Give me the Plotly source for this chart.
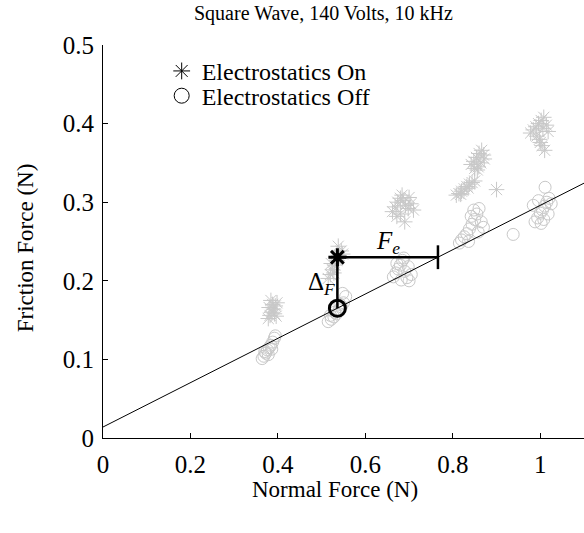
import plotly.graph_objects as go

# ---- data ----
off_x = [0.364, 0.368, 0.372, 0.376, 0.380, 0.384, 0.388, 0.392, 0.378, 0.386, 0.370, 0.394,
         0.515, 0.522, 0.528, 0.534, 0.540, 0.545, 0.550, 0.555, 0.530, 0.542, 0.520, 0.548,
         0.664, 0.670, 0.675, 0.680, 0.685, 0.690, 0.695, 0.700, 0.705, 0.672, 0.688, 0.698, 0.682,
         0.815, 0.820, 0.826, 0.832, 0.838, 0.844, 0.850, 0.855, 0.860, 0.865, 0.870, 0.848, 0.836, 0.858, 0.842,
         0.938,
         0.988, 0.994, 1.000, 1.005, 1.010, 1.015, 1.020, 1.025, 0.984, 1.011, 1.002, 1.018, 0.996, 1.008]
off_y = [0.101, 0.104, 0.108, 0.112, 0.115, 0.118, 0.122, 0.127, 0.106, 0.113, 0.110, 0.130,
         0.148, 0.151, 0.154, 0.158, 0.163, 0.167, 0.172, 0.180, 0.160, 0.170, 0.156, 0.184,
         0.205, 0.210, 0.215, 0.220, 0.226, 0.212, 0.204, 0.200, 0.208, 0.222, 0.229, 0.218, 0.201,
         0.248, 0.252, 0.256, 0.260, 0.266, 0.272, 0.278, 0.285, 0.292, 0.275, 0.268, 0.290, 0.250, 0.262, 0.282,
         0.259,
         0.275, 0.280, 0.286, 0.290, 0.295, 0.300, 0.305, 0.298, 0.296, 0.319, 0.273, 0.285, 0.302, 0.278]

on_x = [0.378, 0.382, 0.386, 0.390, 0.394, 0.398, 0.384, 0.392, 0.380, 0.388, 0.396,
        0.515, 0.520, 0.525, 0.530, 0.535, 0.540, 0.545, 0.522, 0.538, 0.528, 0.548,
        0.662, 0.668, 0.674, 0.680, 0.686, 0.692, 0.698, 0.704, 0.710, 0.680, 0.690, 0.672, 0.700, 0.684,
        0.808, 0.814, 0.820, 0.826, 0.832, 0.838, 0.844, 0.850, 0.818, 0.835,
        0.842, 0.848, 0.854, 0.860, 0.866, 0.872, 0.850, 0.858, 0.864, 0.856, 0.870,
        0.900,
        0.978, 0.984, 0.990, 0.996, 1.002, 1.008, 1.014, 1.018, 0.998, 1.004, 1.010, 0.992, 1.006, 1.000]
on_y = [0.152, 0.156, 0.160, 0.164, 0.168, 0.172, 0.175, 0.158, 0.166, 0.170, 0.155,
        0.203, 0.208, 0.214, 0.220, 0.226, 0.232, 0.238, 0.222, 0.244, 0.210, 0.234,
        0.288, 0.294, 0.300, 0.305, 0.302, 0.296, 0.292, 0.298, 0.290, 0.285, 0.275, 0.282, 0.306, 0.309,
        0.309, 0.311, 0.314, 0.317, 0.320, 0.323, 0.325, 0.327, 0.310, 0.318,
        0.348, 0.352, 0.357, 0.362, 0.366, 0.355, 0.343, 0.345, 0.350, 0.341, 0.360,
        0.316,
        0.388, 0.392, 0.396, 0.400, 0.404, 0.408, 0.398, 0.390, 0.380, 0.372, 0.366, 0.384, 0.394, 0.376]

# highlighted example point and its electrostatic force
hl_x = 0.536
hl_on_y = 0.230
hl_off_y = 0.165
fe_end_x = 0.766

# linear friction fit
fit_slope = 0.282
fit_intercept = 0.014
x_range = [0, 1.1]

x_ticks = [0, 0.2, 0.4, 0.6, 0.8, 1]
x_ticklabels = ["0", "0.2", "0.4", "0.6", "0.8", "1"]
y_ticks = [0, 0.1, 0.2, 0.3, 0.4, 0.5]
y_ticklabels = ["0", "0.1", "0.2", "0.3", "0.4", "0.5"]

title_text = "Square Wave, 140 Volts, 10 kHz"
x_title = "Normal Force (N)"
y_title = "Friction Force (N)"

FONT = "Liberation Serif"
GRAY = "rgb(200,200,200)"

fig = go.Figure()

fig.add_trace(go.Scatter(x=on_x, y=on_y, mode="markers", showlegend=False,
                         marker=dict(symbol="asterisk-open", size=13, color=GRAY,
                                     line=dict(color=GRAY, width=1))))
fig.add_trace(go.Scatter(x=off_x, y=off_y, mode="markers", showlegend=False,
                         marker=dict(symbol="circle-open", size=12, color=GRAY,
                                     line=dict(color=GRAY, width=1))))

fit_y = [fit_intercept + fit_slope * v for v in x_range]
fig.add_trace(go.Scatter(x=x_range, y=fit_y, mode="lines", showlegend=False,
                         line=dict(color="black", width=1)))

# annotation lines
fig.add_trace(go.Scatter(x=[hl_x, hl_x, fe_end_x], y=[hl_off_y, hl_on_y, hl_on_y],
                         mode="lines", showlegend=False,
                         line=dict(color="black", width=2.5)))
fig.add_trace(go.Scatter(x=[fe_end_x], y=[hl_on_y], mode="markers", showlegend=False,
                         marker=dict(symbol="line-ns", size=17, color="black",
                                     line=dict(color="black", width=2.5))))
fig.add_trace(go.Scatter(x=[hl_x], y=[hl_on_y], mode="markers", showlegend=False,
                         marker=dict(symbol="asterisk-open", size=15, color="black",
                                     line=dict(color="black", width=3))))
fig.add_trace(go.Scatter(x=[hl_x], y=[hl_off_y], mode="markers", showlegend=False,
                         marker=dict(symbol="circle-open", size=16, color="black",
                                     line=dict(color="black", width=3))))

# legend entries
fig.add_trace(go.Scatter(x=[None], y=[None], mode="markers", name="Electrostatics On",
                         legend="legend",
                         marker=dict(symbol="asterisk-open", size=14, color="black",
                                     line=dict(color="black", width=1))))
fig.add_trace(go.Scatter(x=[None], y=[None], mode="markers", name="Electrostatics Off",
                         legend="legend2",
                         marker=dict(symbol="circle-open", size=15, color="black",
                                     line=dict(color="black", width=1))))

axis_common = dict(showgrid=False, zeroline=False, showline=True, linecolor="black",
                   linewidth=1, ticks="inside", ticklen=5, tickwidth=1, tickcolor="black",
                   tickfont=dict(family=FONT, size=25, color="black"))

fig.update_layout(
    width=584, height=533,
    margin=dict(l=103, r=0, t=45, b=95),
    paper_bgcolor="white", plot_bgcolor="white",
    font=dict(family=FONT, size=22, color="black"),
    xaxis=dict(range=x_range, tickvals=x_ticks, ticktext=x_ticklabels,
               ticklabelstandoff=4, **axis_common),
    yaxis=dict(range=[0, 0.5], tickvals=y_ticks, ticktext=y_ticklabels,
               ticklabelstandoff=3, **axis_common),
    legend=dict(x=0.122, y=0.933, xanchor="left", yanchor="middle",
                bgcolor="rgba(0,0,0,0)", font=dict(family=FONT, size=24)),
    legend2=dict(x=0.122, y=0.870, xanchor="left", yanchor="middle",
                 bgcolor="rgba(0,0,0,0)", font=dict(family=FONT, size=24)),
    annotations=[
        dict(text=title_text, xref="paper", yref="paper", x=0.458, y=1.079,
             xanchor="center", yanchor="middle", showarrow=False,
             font=dict(family=FONT, size=20)),
        dict(text=x_title, xref="paper", yref="paper", x=0.482, y=-0.132,
             xanchor="center", yanchor="middle", showarrow=False,
             font=dict(family=FONT, size=23)),
        dict(text=y_title, xref="paper", yref="paper", x=-0.162, y=0.483,
             xanchor="center", yanchor="middle", showarrow=False, textangle=-90,
             font=dict(family=FONT, size=23)),
        dict(text="<i>F</i><sub><i>e</i></sub>", xref="x", yref="y", x=0.652, y=0.249,
             xanchor="center", yanchor="middle", showarrow=False,
             font=dict(family=FONT, size=25)),
        dict(text="\u0394<sub><i>F</i></sub>", xref="x", yref="y", x=0.50, y=0.197,
             xanchor="center", yanchor="middle", showarrow=False,
             font=dict(family=FONT, size=25)),
    ],
)

fig.write_html("out.html")
